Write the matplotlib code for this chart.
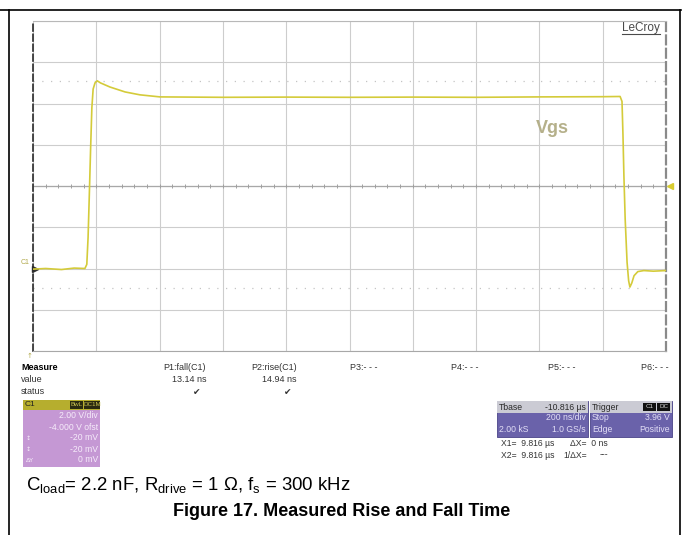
import matplotlib.pyplot as plt
from matplotlib.patches import Rectangle

plt.rcParams['font.family'] = ['Liberation Sans', 'DejaVu Sans']
plt.rcParams['mathtext.fontset'] = 'custom'
plt.rcParams['mathtext.rm'] = 'Liberation Sans'

# Vgs trace (time in ns, 200 ns/div; voltage in V, 2 V/div)
t_ns = [0, 40, 90, 130, 164, 170, 174, 178, 182, 186, 190, 196, 203, 213,
        243, 291, 338, 401, 600, 800, 1000, 1200, 1400, 1600, 1800, 1855,
        1861, 1864, 1867, 1871, 1877, 1882, 1886, 1892, 1899, 1911, 1930,
        1960, 2000]
vgs = [-0.03, 0.0, -0.05, 0.02, 0.0, 0.2, 1.5, 3.6, 5.8, 7.8, 8.7, 9.0, 9.1, 9.0,
       8.8, 8.56, 8.42, 8.32, 8.30, 8.31, 8.30, 8.31, 8.30, 8.32, 8.33, 8.34,
       8.1, 6.5, 4.5, 2.4, 0.3, -0.6, -0.9, -0.7, -0.35, -0.15, -0.1,
       -0.13, -0.1]

# cursor levels (dotted)
level_hi = 9.1
level_lo = -0.95

meas_names = ['P1:fall(C1)', 'P2:rise(C1)']
meas_values = ['13.14 ns', '14.94 ns']
free_slots = ['P3:- - -', 'P4:- - -', 'P5:- - -', 'P6:- - -']

ch_rows = ['2.00 V/div', '-4.000 V ofst', '-20 mV', '-20 mV', '0 mV']
tbase_rows = [('Tbase', '-10.816 µs'), ('', '200 ns/div'), ('2.00 kS', '1.0 GS/s')]
trig_rows = [('Trigger', ''), ('Stop', '3.96 V'), ('Edge', 'Positive')]

trace_col = '#d4cb3a'
grid_col = '#cdcdcd'

fig = plt.figure(figsize=(6.83, 5.35), dpi=100)

# overlay in pixel coordinates for frame, panels and captions
ov = fig.add_axes([0, 0, 1, 1])
ov.set_xlim(0, 683)
ov.set_ylim(535, 0)
ov.axis('off')

ov.plot([0, 681], [10, 10], color='black', lw=1.2)
ov.plot([9, 9], [10, 535], color='black', lw=1.2)
ov.plot([680, 680], [10, 535], color='black', lw=1.2)

# scope screen
ax = fig.add_axes([33 / 683, 1 - 351 / 535, 633 / 683, 330 / 535])
ax.set_xlim(0, 2000)
ax.set_ylim(-4, 12)
ax.set_xticks(range(0, 2001, 200))
ax.set_yticks(range(-4, 13, 2))
ax.tick_params(length=0, labelbottom=False, labelleft=False)
ax.grid(True, color=grid_col, lw=0.8)
ax.patch.set_alpha(0)
ax.spines['top'].set_color('#b8b8b8')
ax.spines['bottom'].set_color('#a8a8a8')
ax.spines['left'].set_color('#2a2a2a')
ax.spines['left'].set_linestyle((0, (4, 2)))
ax.spines['left'].set_linewidth(1.2)
ax.spines['right'].set_color('#8a8a8a')
ax.spines['right'].set_linestyle((0, (4, 2)))
ax.spines['right'].set_linewidth(1.6)

# minor ticks on the centre line
ax.axhline(4, color='#a8a8a8', lw=0.9)
ax.plot([x for x in range(40, 2000, 40)], [4] * 49, ls='none', marker='|',
        ms=3.5, color='#a0a0a0', mew=0.7)

ax.axhline(level_hi, color='#c4c4c4', lw=0.9, ls=(0, (1, 6)))
ax.axhline(level_lo, color='#c4c4c4', lw=0.9, ls=(0, (1, 6)))

ax.plot(t_ns, vgs, color=trace_col, lw=1.2, zorder=5)

ax.text(1640, 6.8, 'Vgs', color='#b5b08a', fontsize=13, fontweight='bold',
        ha='center', va='center')
ax.text(1982, 11.68, 'LeCroy', color='#4a4a4a', fontsize=8.5, ha='right',
        va='center')
ax.plot([1862, 1982], [11.36, 11.36], color='#4a4a4a', lw=0.8)

# channel / trigger markers
ax.plot([2012], [4], marker='<', color='#d8cc30', ms=5, clip_on=False)
ax.plot([6], [0], marker='>', color='#333333', ms=4, clip_on=False)
ov.text(21, 262, 'C1', color='#b0a84a', fontsize=5, va='center')
ov.text(30, 356, '↑', color='#b0a84a', fontsize=5, ha='center', va='center',
        family=['DejaVu Sans'])

# measurement table
fs = 6.5
ov.text(21, 368, 'Measure', fontsize=fs, fontweight='bold', va='center')
ov.text(21, 380, 'value', fontsize=fs, va='center', color='#333333')
ov.text(21, 392, 'status', fontsize=fs, va='center', color='#333333')
for name, val, xr in zip(meas_names, meas_values, [206, 297]):
    ov.text(xr, 368, name, fontsize=fs, ha='right', va='center', color='#333333')
    ov.text(xr, 380, val, fontsize=fs, ha='right', va='center', color='#333333')
    ov.text(xr - 6, 392, '✔', fontsize=fs, ha='right', va='center',
            color='#333333', family=['DejaVu Sans'])
for name, xl in zip(free_slots, [350, 451, 548, 641]):
    ov.text(xl, 368, name, fontsize=fs, va='center', color='#333333')

# channel box
fs2 = 6.2
ov.add_patch(Rectangle((23, 400), 77, 67, facecolor='#c598d4', edgecolor='none'))
ov.add_patch(Rectangle((23, 400), 77, 10, facecolor='#b6ae2e', edgecolor='none'))
ov.text(25, 405, 'C1', fontsize=6, color='#222222', va='center')
ov.add_patch(Rectangle((70, 401), 13, 8, facecolor='#2a2a10', edgecolor='none'))
ov.add_patch(Rectangle((84, 401), 16, 8, facecolor='#2a2a10', edgecolor='none'))
ov.text(76.5, 405, 'BwL', fontsize=4.5, color='#c8c050', ha='center', va='center')
ov.text(92, 405, 'DC1M', fontsize=4.5, color='#c8c050', ha='center', va='center')
for i, row in enumerate(ch_rows):
    ov.text(98, 416 + 11 * i, row, fontsize=fs2, color='#f6ecfa', ha='right',
            va='center')
for i, lab in enumerate(['↕', '↕', 'ΔY']):
    ov.text(26, 438 + 11 * i, lab, fontsize=4.5, color='#f6ecfa', va='center',
            family=['DejaVu Sans'])

# timebase and trigger boxes
for (x0, w, rows) in [(497, 91, tbase_rows), (590, 82, trig_rows)]:
    ov.add_patch(Rectangle((x0, 401), w, 36, facecolor='#6a62aa',
                           edgecolor='#4a4488', lw=0.6))
    ov.add_patch(Rectangle((x0, 401), w, 12, facecolor='#cbcbd4',
                           edgecolor='none'))
    for i, (left, right) in enumerate(rows):
        col = '#2a2a2a' if i == 0 else '#e2def6'
        y = 407 + 11 * i
        ov.text(x0 + 2, y, left, fontsize=fs2, color=col, va='center')
        ov.text(x0 + w - 2, y, right, fontsize=fs2, color=col, ha='right',
                va='center')
ov.add_patch(Rectangle((643, 403), 13, 8, facecolor='#111111', edgecolor='none'))
ov.add_patch(Rectangle((657, 403), 13, 8, facecolor='#111111', edgecolor='none'))
ov.text(649.5, 407, 'C1', fontsize=4.5, color='#d8d8d8', ha='center', va='center')
ov.text(663.5, 407, 'DC', fontsize=4.5, color='#d8d8d8', ha='center', va='center')

ov.text(501, 443, 'X1=  9.816 µs', fontsize=fs2, color='#333333', va='center')
ov.text(570, 443, 'ΔX=  0 ns', fontsize=fs2, color='#333333', va='center')
ov.text(501, 455, 'X2=  9.816 µs', fontsize=fs2, color='#333333', va='center')
ov.text(563, 455, '1/ΔX=', fontsize=fs2, color='#333333', va='center')
ov.text(600, 455, '---', fontsize=fs2, color='#333333', va='center')

# captions
ov.text(26, 486, r'C$_{\mathrm{load}}$= 2.2 nF, R$_{\mathrm{drive}}$ = 1 Ω, '
        r'f$_{\mathrm{s}}$ = 300 kHz', fontsize=13.4, va='center')
ov.text(342, 511, 'Figure 17. Measured Rise and Fall Time', fontsize=13,
        fontweight='bold', ha='center', va='center')

fig.savefig('out.png', dpi=100)
